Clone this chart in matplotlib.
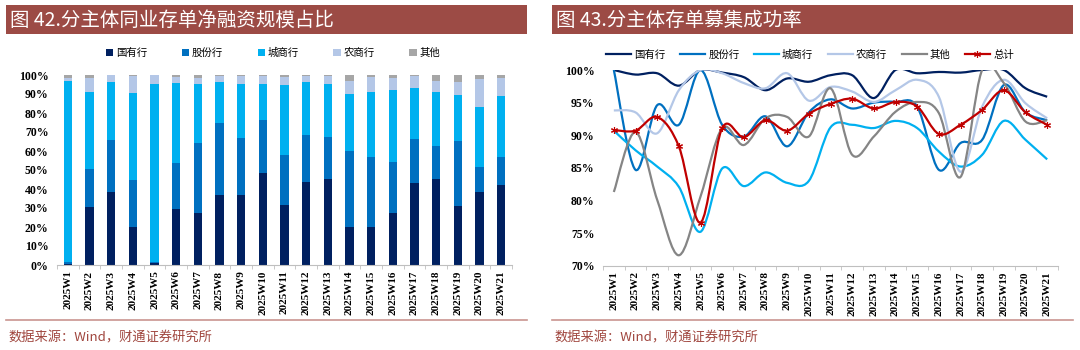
import numpy as np
import matplotlib.pyplot as plt
from matplotlib.path import Path
from matplotlib.patches import PathPatch, Rectangle
from matplotlib.lines import Line2D
from matplotlib.ticker import FuncFormatter

plt.rcParams['font.family'] = ['Noto Sans CJK SC', 'DejaVu Sans']

weeks = [f'2025W{i}' for i in range(1, 22)]
series_names = ['国有行', '股份行', '城商行', '农商行', '其他']

# 图42: net financing share by issuer type (%)
share_guoyou = [0.5, 30.4, 38.2, 20.2, 0.9, 29.3, 27.5, 36.7, 36.7, 48.6, 31.6,
                43.9, 45.4, 20.2, 20.2, 27.2, 43.0, 45.4, 31.2, 38.4, 42.1]
share_gufen = [1.0, 20.1, 27.8, 24.4, 0.9, 24.6, 36.7, 38.0, 30.1, 27.7, 26.3,
               24.7, 21.8, 39.6, 36.5, 27.0, 23.5, 17.1, 33.9, 13.4, 14.6]
share_chengshang = [95.5, 40.4, 30.1, 45.9, 93.5, 41.7, 31.1, 21.8, 28.5, 19.0, 36.8,
                    27.7, 28.1, 30.2, 34.2, 37.7, 26.5, 28.7, 24.4, 31.5, 32.1]
share_nongshang = [1.2, 7.7, 3.9, 9.1, 4.7, 3.2, 2.9, 2.8, 4.2, 4.2, 4.1,
                   3.3, 4.2, 6.8, 7.9, 6.3, 6.6, 5.8, 6.8, 14.6, 9.6]
share_qita = [1.8, 1.4, 0.0, 0.4, 0.0, 1.2, 1.8, 0.7, 0.5, 0.5, 1.2,
              0.4, 0.5, 3.2, 1.2, 1.8, 0.4, 3.0, 3.7, 2.1, 1.6]

# 图43: issuance success rate (%)
rate_guoyou = [100, 99.3, 99.5, 97.6, 100, 99.6, 98.9, 96.9, 98.7, 98.2, 99.2,
               99.2, 95.7, 100, 99.5, 99.7, 99.6, 100, 100, 97.2, 95.9]
rate_gufen = [100, 84.7, 94.6, 91.6, 100, 91.6, 89.8, 92.9, 88.3, 93.5, 95.5,
              94.1, 95.0, 95.1, 94.4, 84.7, 88.8, 89.3, 97.7, 93.5, 92.3]
rate_chengshang = [90.7, 87.7, 85.2, 82.1, 75.2, 84.9, 82.2, 84.3, 82.7, 83.0, 91.2,
                   91.6, 91.1, 92.2, 91.1, 87.5, 85.2, 87.0, 92.2, 89.3, 86.3]
rate_nongshang = [93.8, 93.5, 90.3, 96.9, 100, 99.5, 98.0, 97.2, 99.5, 95.3, 97.4,
                  96.7, 95.1, 96.9, 98.5, 95.9, 84.4, 94.4, 98.5, 94.9, 92.6]
rate_qita = [81.3, 90.5, 80.1, 71.6, 80.6, 91.1, 88.5, 92.6, 92.8, 89.8, 97.2,
             87.0, 89.8, 93.6, 95.1, 93.4, 83.6, 100, 98.0, 92.1, 92.3]
rate_total = [90.8, 90.7, 92.8, 88.3, 76.6, 91.1, 89.7, 92.3, 90.7, 93.3, 94.8,
              95.6, 94.1, 95.1, 94.4, 90.2, 91.6, 93.9, 96.9, 93.5, 91.6]

bar_colors = ['#002060', '#0070C0', '#00B0F0', '#B4C7E7', '#A6A6A6']
line_colors = ['#002060', '#0070C0', '#00B0F0', '#B4C7E7', '#858585']
red = '#C00000'
title_bg = '#9C4B45'
src_color = '#A0463E'
num_font = dict(family='Liberation Serif', weight='bold')


def smooth_path(x, y):
    # Excel-like smoothed line: Catmull-Rom converted to cubic Bezier segments
    pts = np.column_stack([x, y]).astype(float)
    verts = [pts[0]]
    codes = [Path.MOVETO]
    n = len(pts)
    for i in range(n - 1):
        p0 = pts[max(i - 1, 0)]
        p1 = pts[i]
        p2 = pts[i + 1]
        p3 = pts[min(i + 2, n - 1)]
        c1 = p1 + (p2 - p0) / 6
        c2 = p2 - (p3 - p1) / 6
        verts += [c1, c2, p2]
        codes += [Path.CURVE4] * 3
    return Path(verts, codes)


def style_xaxis(ax):
    ax.set_xlim(-0.5, len(weeks) - 0.5)
    ax.set_xticks(range(len(weeks)))
    ax.set_xticklabels(weeks, rotation=90, fontsize=8, **num_font)
    ax.set_xticks(np.arange(-0.5, len(weeks)), minor=True)
    ax.tick_params(axis='x', which='major', length=0, pad=4)
    ax.tick_params(axis='x', which='minor', length=3, color='#BFBFBF')
    ax.tick_params(axis='y', length=0, pad=6)
    for s in ['top', 'right', 'left']:
        ax.spines[s].set_visible(False)
    ax.spines['bottom'].set_color('#BFBFBF')
    for lab in ax.get_yticklabels():
        lab.set_fontfamily('Liberation Serif')
        lab.set_fontweight('bold')
        lab.set_fontsize(8.5)


fig = plt.figure(figsize=(10.8, 3.5), dpi=100)

# title bars, bottom rules and source notes
for x0, title in [(6, '图 42.分主体同业存单净融资规模占比'), (552, '图 43.分主体存单募集成功率')]:
    fig.add_artist(Rectangle((x0 / 1080, 1 - 34 / 350), 521 / 1080, 29 / 350,
                             transform=fig.transFigure, color=title_bg, lw=0))
    fig.text((x0 + 4) / 1080, 1 - 20 / 350, title, color='white', fontsize=14,
             va='center', ha='left')
    fig.add_artist(Line2D([x0 / 1080, (x0 + 521) / 1080], [1 - 320 / 350] * 2,
                          transform=fig.transFigure, color='#C99590', lw=1.2))
    fig.text((x0 + 2) / 1080, 1 - 338 / 350, '数据来源：Wind，财通证券研究所',
             color=src_color, fontsize=9.5, va='center', ha='left')

# left: stacked bars
ax1 = fig.add_axes([57 / 1080, 85 / 350, 455 / 1080, 190 / 350])
x = np.arange(len(weeks))
bottom = np.zeros(len(weeks))
for name, vals, c in zip(series_names,
                         [share_guoyou, share_gufen, share_chengshang, share_nongshang, share_qita],
                         bar_colors):
    ax1.bar(x, vals, bottom=bottom, width=0.38, color=c, label=name)
    bottom += np.array(vals)
ax1.set_ylim(0, 100)
ax1.set_yticks(range(0, 101, 10))
ax1.yaxis.set_major_formatter(FuncFormatter(lambda v, _: f'{v:.0f}%'))
style_xaxis(ax1)
ax1.legend(loc='center', bbox_to_anchor=(0.475, 1.115), ncol=5, frameon=False,
           fontsize=7.5, handlelength=0.7, handleheight=0.7, handletextpad=0.3,
           columnspacing=3.3)

# right: smoothed lines
ax2 = fig.add_axes([603 / 1080, 84.3 / 350, 455 / 1080, 195.7 / 350])
handles = []
for name, vals, c in zip(series_names,
                         [rate_guoyou, rate_gufen, rate_chengshang, rate_nongshang, rate_qita],
                         line_colors):
    ax2.add_patch(PathPatch(smooth_path(x, vals), fill=False, edgecolor=c, lw=1.6))
    handles.append(Line2D([], [], color=c, lw=1.6, label=name))
ax2.add_patch(PathPatch(smooth_path(x, rate_total), fill=False, edgecolor=red, lw=1.6, zorder=3))
ax2.plot(x, rate_total, linestyle='none', marker=(6, 2, 0), ms=5, mew=0.8,
         color=red, zorder=4)
handles.append(Line2D([], [], color=red, lw=1.6, marker=(6, 2, 0), ms=5, mew=0.8,
                      label='总计'))
ax2.set_ylim(70, 100)
ax2.set_yticks(range(70, 101, 5))
ax2.yaxis.set_major_formatter(FuncFormatter(lambda v, _: f'{v:.0f}%'))
style_xaxis(ax2)
ax2.legend(handles=handles, loc='center', bbox_to_anchor=(0.455, 1.077), ncol=6,
           frameon=False, fontsize=7.5, handlelength=2.4, handletextpad=0.3,
           columnspacing=1.4)

fig.savefig('out.png', dpi=100)
